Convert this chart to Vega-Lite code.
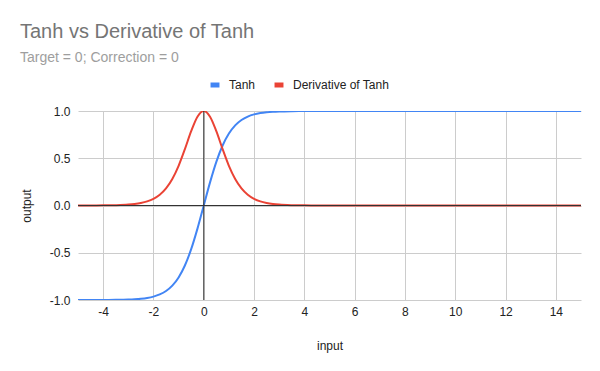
{
  "$schema": "https://vega.github.io/schema/vega-lite/v6.json",
  "width": 503,
  "height": 189,
  "autosize": {"type": "none"},
  "padding": {"left": 78, "top": 111, "right": 19, "bottom": 71},
  "background": "white",
  "config": {
    "font": "Liberation Sans",
    "view": {"stroke": null}
  },
  "title": {
    "text": "Tanh vs Derivative of Tanh",
    "subtitle": "Target = 0; Correction = 0",
    "anchor": "start",
    "frame": "group",
    "dx": -58,
    "offset": 47,
    "dy": 34,
    "fontSize": 20,
    "fontWeight": "normal",
    "color": "#757575",
    "subtitleFontSize": 14,
    "subtitleColor": "#9e9e9e",
    "subtitlePadding": 9
  },
  "data": {
    "values": [
      {"input": -5, "output": -0.99991, "series": "Tanh"},
      {"input": -4.5, "output": -0.99975, "series": "Tanh"},
      {"input": -4, "output": -0.99933, "series": "Tanh"},
      {"input": -3.5, "output": -0.99818, "series": "Tanh"},
      {"input": -3, "output": -0.99505, "series": "Tanh"},
      {"input": -2.75, "output": -0.99186, "series": "Tanh"},
      {"input": -2.5, "output": -0.98661, "series": "Tanh"},
      {"input": -2.25, "output": -0.97803, "series": "Tanh"},
      {"input": -2, "output": -0.96403, "series": "Tanh"},
      {"input": -1.75, "output": -0.94138, "series": "Tanh"},
      {"input": -1.5, "output": -0.90515, "series": "Tanh"},
      {"input": -1.25, "output": -0.84828, "series": "Tanh"},
      {"input": -1, "output": -0.76159, "series": "Tanh"},
      {"input": -0.75, "output": -0.63515, "series": "Tanh"},
      {"input": -0.5, "output": -0.46212, "series": "Tanh"},
      {"input": -0.25, "output": -0.24492, "series": "Tanh"},
      {"input": 0, "output": 0, "series": "Tanh"},
      {"input": 0.25, "output": 0.24492, "series": "Tanh"},
      {"input": 0.5, "output": 0.46212, "series": "Tanh"},
      {"input": 0.75, "output": 0.63515, "series": "Tanh"},
      {"input": 1, "output": 0.76159, "series": "Tanh"},
      {"input": 1.25, "output": 0.84828, "series": "Tanh"},
      {"input": 1.5, "output": 0.90515, "series": "Tanh"},
      {"input": 1.75, "output": 0.94138, "series": "Tanh"},
      {"input": 2, "output": 0.96403, "series": "Tanh"},
      {"input": 2.25, "output": 0.97803, "series": "Tanh"},
      {"input": 2.5, "output": 0.98661, "series": "Tanh"},
      {"input": 2.75, "output": 0.99186, "series": "Tanh"},
      {"input": 3, "output": 0.99505, "series": "Tanh"},
      {"input": 3.5, "output": 0.99818, "series": "Tanh"},
      {"input": 4, "output": 0.99933, "series": "Tanh"},
      {"input": 4.5, "output": 0.99975, "series": "Tanh"},
      {"input": 5, "output": 0.99991, "series": "Tanh"},
      {"input": 6, "output": 0.99999, "series": "Tanh"},
      {"input": 8, "output": 1, "series": "Tanh"},
      {"input": 10, "output": 1, "series": "Tanh"},
      {"input": 12, "output": 1, "series": "Tanh"},
      {"input": 14, "output": 1, "series": "Tanh"},
      {"input": 15, "output": 1, "series": "Tanh"},
      {"input": -5, "output": 0.00018, "series": "Derivative of Tanh"},
      {"input": -4.5, "output": 0.00049, "series": "Derivative of Tanh"},
      {"input": -4, "output": 0.00134, "series": "Derivative of Tanh"},
      {"input": -3.5, "output": 0.00364, "series": "Derivative of Tanh"},
      {"input": -3, "output": 0.00987, "series": "Derivative of Tanh"},
      {"input": -2.75, "output": 0.01622, "series": "Derivative of Tanh"},
      {"input": -2.5, "output": 0.02659, "series": "Derivative of Tanh"},
      {"input": -2.25, "output": 0.04346, "series": "Derivative of Tanh"},
      {"input": -2, "output": 0.07065, "series": "Derivative of Tanh"},
      {"input": -1.75, "output": 0.11381, "series": "Derivative of Tanh"},
      {"input": -1.5, "output": 0.18071, "series": "Derivative of Tanh"},
      {"input": -1.25, "output": 0.28042, "series": "Derivative of Tanh"},
      {"input": -1, "output": 0.41998, "series": "Derivative of Tanh"},
      {"input": -0.75, "output": 0.59659, "series": "Derivative of Tanh"},
      {"input": -0.5, "output": 0.78645, "series": "Derivative of Tanh"},
      {"input": -0.25, "output": 0.94001, "series": "Derivative of Tanh"},
      {"input": 0, "output": 1, "series": "Derivative of Tanh"},
      {"input": 0.25, "output": 0.94001, "series": "Derivative of Tanh"},
      {"input": 0.5, "output": 0.78645, "series": "Derivative of Tanh"},
      {"input": 0.75, "output": 0.59659, "series": "Derivative of Tanh"},
      {"input": 1, "output": 0.41998, "series": "Derivative of Tanh"},
      {"input": 1.25, "output": 0.28042, "series": "Derivative of Tanh"},
      {"input": 1.5, "output": 0.18071, "series": "Derivative of Tanh"},
      {"input": 1.75, "output": 0.11381, "series": "Derivative of Tanh"},
      {"input": 2, "output": 0.07065, "series": "Derivative of Tanh"},
      {"input": 2.25, "output": 0.04346, "series": "Derivative of Tanh"},
      {"input": 2.5, "output": 0.02659, "series": "Derivative of Tanh"},
      {"input": 2.75, "output": 0.01622, "series": "Derivative of Tanh"},
      {"input": 3, "output": 0.00987, "series": "Derivative of Tanh"},
      {"input": 3.5, "output": 0.00364, "series": "Derivative of Tanh"},
      {"input": 4, "output": 0.00134, "series": "Derivative of Tanh"},
      {"input": 4.5, "output": 0.00049, "series": "Derivative of Tanh"},
      {"input": 5, "output": 0.00018, "series": "Derivative of Tanh"},
      {"input": 6, "output": 0.00002, "series": "Derivative of Tanh"},
      {"input": 8, "output": 0, "series": "Derivative of Tanh"},
      {"input": 10, "output": 0, "series": "Derivative of Tanh"},
      {"input": 12, "output": 0, "series": "Derivative of Tanh"},
      {"input": 14, "output": 0, "series": "Derivative of Tanh"},
      {"input": 15, "output": 0, "series": "Derivative of Tanh"}
    ]
  },
  "layer": [
    {
      "mark": {"type": "line", "strokeWidth": 2, "interpolate": "monotone", "clip": true},
      "encoding": {
        "x": {
          "field": "input", "type": "quantitative",
          "scale": {"domain": [-5, 15], "nice": false, "zero": false},
          "axis": {
            "title": "input", "values": [-4, -2, 0, 2, 4, 6, 8, 10, 12, 14],
            "labelExpr": "replace(datum.label, '\u2212', '-')",
            "domain": false, "ticks": false, "grid": true, "gridColor": "#cccccc",
            "labelFontSize": 12, "labelColor": "#222222", "labelPadding": 6,
            "titleFontSize": 12, "titleFontWeight": "normal", "titleColor": "#222222", "titlePadding": 23
          }
        },
        "y": {
          "field": "output", "type": "quantitative",
          "scale": {"domain": [-1, 1], "nice": false},
          "axis": {
            "title": "output", "values": [-1, -0.5, 0, 0.5, 1], "format": ".1f",
            "labelExpr": "replace(datum.label, '\u2212', '-')",
            "domain": false, "ticks": false, "grid": true, "gridColor": "#cccccc",
            "labelFontSize": 12, "labelColor": "#222222", "labelPadding": 8,
            "titleFontSize": 12, "titleFontWeight": "normal", "titleColor": "#222222", "titlePadding": 16
          }
        },
        "color": {
          "field": "series", "type": "nominal",
          "scale": {"domain": ["Tanh", "Derivative of Tanh"], "range": ["#4285f4", "#ea4335"]},
          "legend": {
            "title": null, "orient": "none", "direction": "horizontal",
            "legendX": 130, "legendY": -33,
            "symbolType": "stroke", "symbolSize": 80,
            "symbolStrokeWidth": 5,
            "labelFontSize": 12, "labelColor": "#222222", "columnPadding": 8, "labelOffset": 7
          }
        }
      }
    },
    {
      "data": {"values": [{"v": 0}]},
      "mark": {"type": "rule", "color": "#333333", "strokeWidth": 1},
      "encoding": {"x": {"field": "v", "type": "quantitative"}}
    },
    {
      "data": {"values": [{"v": 0}]},
      "mark": {"type": "rule", "color": "#333333", "strokeWidth": 1},
      "encoding": {"y": {"field": "v", "type": "quantitative"}}
    }
  ]
}
